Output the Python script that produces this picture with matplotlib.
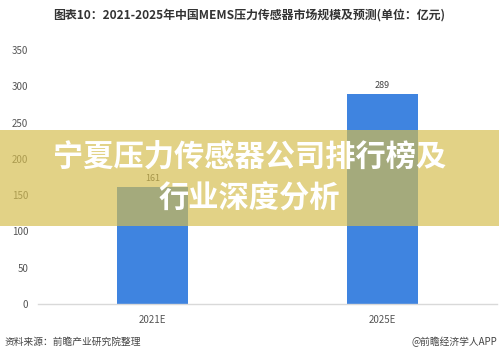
import matplotlib
matplotlib.use("Agg")
import matplotlib.pyplot as plt
from matplotlib.patches import Rectangle

plt.rcParams['font.family'] = ['Noto Sans CJK SC', 'DejaVu Sans']

categories = ["2021E", "2025E"]
values = [161, 289]
yticks = [0, 50, 100, 150, 200, 250, 300, 350]

title = "图表10：2021-2025年中国MEMS压力传感器市场规模及预测(单位：亿元)"
banner_lines = ["宁夏压力传感器公司排行榜及", "行业深度分析"]
source = "资料来源：前瞻产业研究院整理"
credit = "@前瞻经济学人APP"

fig = plt.figure(figsize=(4.99, 3.57), dpi=100)
fig.patch.set_facecolor("white")
ax = fig.add_axes([38/499, (357-304)/357, (497-38)/499, (304-50)/357])

x = list(range(len(categories)))
bars = ax.bar(x, values, width=0.31, color="#3F84E0", zorder=2)
for xi, v in zip(x, values):
    ax.text(xi, v + 6, str(v), ha="center", va="bottom", fontsize=6.5, color="#444444")

ax.set_xlim(-0.5, 1.5)
ax.set_ylim(0, 350)
ax.set_yticks(yticks)
ax.set_yticklabels([str(t) for t in yticks], fontsize=7, color="#555555")
ax.set_xticks(x)
ax.set_xticklabels(categories, fontsize=7, color="#555555")
ax.tick_params(axis="both", length=0)
ax.tick_params(axis="x", pad=8)
ax.tick_params(axis="y", pad=7)
for s in ["top", "right", "left"]:
    ax.spines[s].set_visible(False)
ax.spines["bottom"].set_color("#D9D9D9")
ax.spines["bottom"].set_linewidth(1.0)

fig.text(0.5, 1 - 15/357, title, ha="center", va="center", fontsize=8.6,
         fontweight="bold", color="#333333")
fig.text(5/499, 1 - 342/357, source, ha="left", va="center", fontsize=7, color="#444444")
fig.text(497/499, 1 - 342/357, credit, ha="right", va="center", fontsize=7, color="#444444")

# banner overlay
fig.patches.append(Rectangle((0, (357-226)/357), 1, 96/357, transform=fig.transFigure,
                             facecolor=(0.835, 0.74, 0.30), alpha=0.68, edgecolor="none",
                             zorder=10))
fig.text(0.5, 1 - 158/357, banner_lines[0], ha="center", va="center", fontsize=21.8,
         fontweight="heavy", color="white", zorder=11)
fig.text(0.5, 1 - 199/357, banner_lines[1], ha="center", va="center", fontsize=21.8,
         fontweight="heavy", color="white", zorder=11)

fig.savefig("out.png", dpi=100, facecolor="white")
